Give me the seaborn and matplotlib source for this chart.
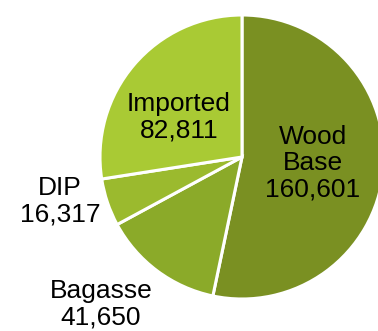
import matplotlib
matplotlib.use("Agg")
import matplotlib.pyplot as plt
import seaborn as sns

# Daten
categories = ["Wood\nBase", "Bagasse", "DIP", "Imported"]
values = [160601, 41650, 16317, 82811]
colors = ["#7A9022", "#8BAA29", "#9BBA2E", "#A9CA34"]

sns.set_style("white")
plt.rcParams['font.family'] = ['Liberation Sans', 'DejaVu Sans']

W, H = 378, 331
fig = plt.figure(figsize=(W / 100, H / 100), dpi=100)
ax = fig.add_axes([0, 0, 1, 1])

cx, cy, r = 242, H - 157, 142
wedges, _ = ax.pie(values, colors=colors, startangle=90, counterclock=False,
                   center=(cx, cy), radius=r,
                   wedgeprops={'edgecolor': 'white', 'linewidth': 2.2})

def fmt(v):
    return f"{v:,}"

# Beschriftungen (innen: Wood Base, Imported; aussen: DIP, Bagasse)
label_pos = {
    "Wood\nBase": (313, 163),
    "Imported": (179, 117),
    "DIP": (60, 201),
    "Bagasse": (101, 304),
}
for cat, v in zip(categories, values):
    x, y = label_pos[cat]
    ax.text(x, H - y, f"{cat}\n{fmt(v)}", ha='center', va='center',
            fontsize=19, color='black', linespacing=1.13)

ax.set_xlim(0, W)
ax.set_ylim(0, H)
ax.set_aspect('equal')
ax.axis('off')

plt.savefig('out.png', dpi=100)
plt.close()
